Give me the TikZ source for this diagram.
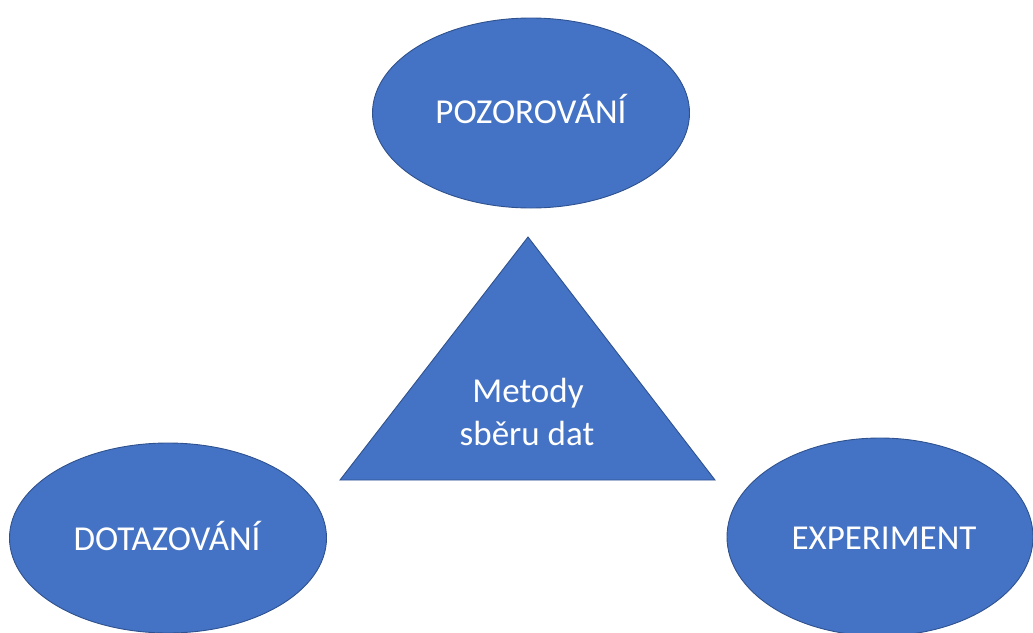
\documentclass[tikz,border=0pt]{standalone}
\usepackage{fontspec}
\setmainfont{Carlito}
\usetikzlibrary{shapes.geometric}
\definecolor{shapefill}{HTML}{4472C4}
\definecolor{shapeline}{HTML}{2F528F}
\tikzset{
  oval/.style={ellipse, fill=shapefill, draw=shapeline, line width=0.9pt,
    minimum width=317pt, minimum height=190pt, inner sep=0pt},
  lbl/.style={text=white, font=\fontsize{35}{43}\selectfont, anchor=base,
    inner sep=0pt, align=center},
  tri/.style={fill=shapefill, draw=shapeline, line width=0.9pt, line join=miter}
}
\begin{document}
\begin{tikzpicture}[x=1pt,y=-1pt]
\useasboundingbox (0,0) rectangle (1033,632);
\node[oval] (poz) at (531,113) {};
\node[oval] (dot) at (168,538) {};
\node[oval, minimum width=306pt, minimum height=198pt] (exp) at (880,537) {};
\coordinate (apex) at (528,237);
\coordinate (bl) at (340,480);
\coordinate (br) at (715,480);
\draw[tri] (apex) -- (br) -- (bl) -- cycle;
\node[lbl] (tpoz) at (531,123) {POZOROVÁNÍ};
\node[lbl] (tdot) at (167,550) {DOTAZOVÁNÍ};
\node[lbl] (texp) at (884,549) {EXPERIMENT};
\node[lbl] (tmet) at (528,402) {Metody};
\node[lbl] (tsb) at (527,445) {sběru dat};
\end{tikzpicture}
\end{document}
